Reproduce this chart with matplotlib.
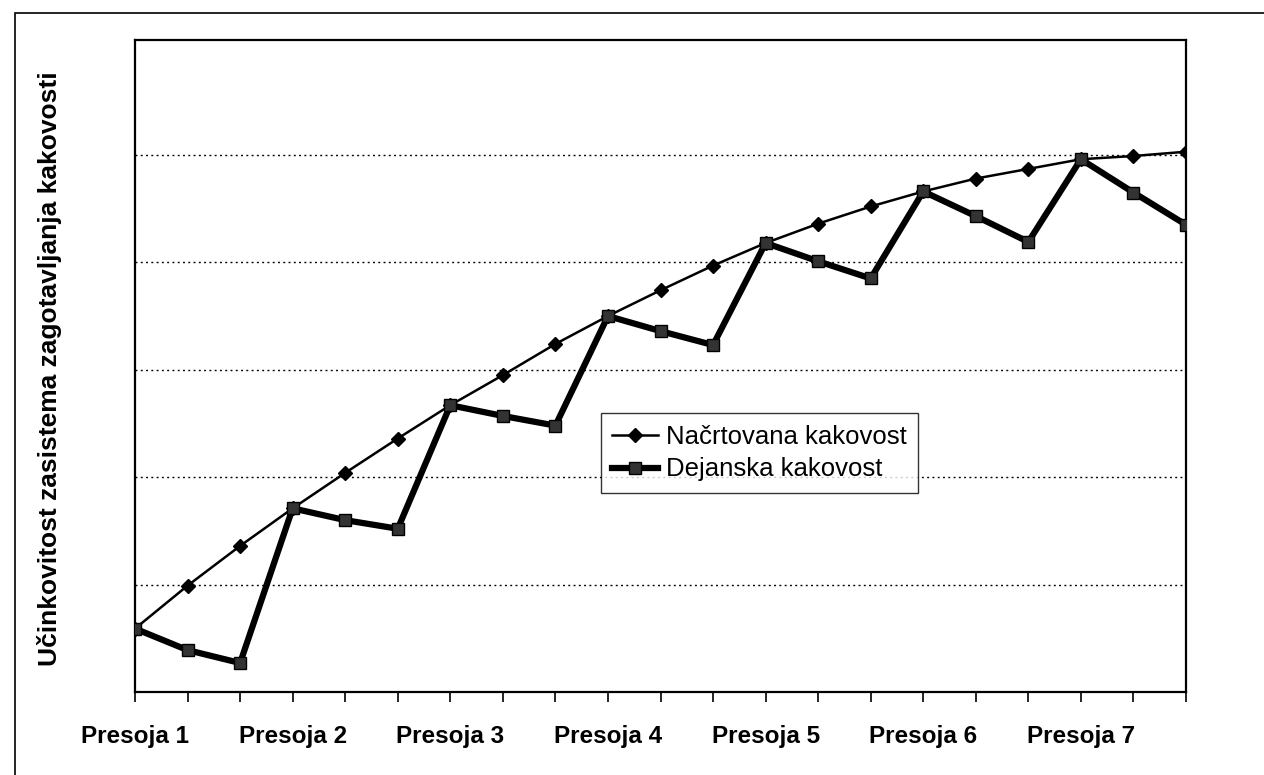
import matplotlib
matplotlib.use("Agg")
import matplotlib.pyplot as plt
from matplotlib.patches import Rectangle


# values (y axis has no labels, gridlines at 1..5)
categories = list(range(21))
tick_labels = ["Presoja 1", "", "", "Presoja 2", "", "", "Presoja 3", "", "",
               "Presoja 4", "", "", "Presoja 5", "", "", "Presoja 6", "", "",
               "Presoja 7", "", ""]
planned = [0.59, 0.99, 1.36, 1.71, 2.04, 2.36, 2.67, 2.95, 3.24, 3.50, 3.74,
           3.97, 4.18, 4.36, 4.52, 4.66, 4.78, 4.87, 4.96, 4.99, 5.03]
actual = [0.59, 0.39, 0.27, 1.71, 1.60, 1.52, 2.67, 2.57, 2.48, 3.50, 3.36,
          3.23, 4.18, 4.01, 3.85, 4.66, 4.43, 4.19, 4.96, 4.65, 4.35]
grid_levels = [1, 2, 3, 4, 5]

series_names = ["Načrtovana kakovost", "Dejanska kakovost"]
ylabel = "Učinkovitost zasistema zagotavljanja kakovosti"

plt.rcParams["font.family"] = ["Liberation Sans", "DejaVu Sans"]

fig = plt.figure(figsize=(12.64, 7.75), dpi=100)
ax = fig.add_axes([135 / 1264, 83 / 775, 1051 / 1264, 652 / 775])

# outer chart frame (right and bottom edges fall outside the picture)
fig.patches.append(Rectangle((15 / 1264, -0.1), 1.2, 0.1 + 762 / 775,
                             transform=fig.transFigure, fill=False,
                             edgecolor="black", linewidth=1.2))

ax.plot(categories, planned, color="black", linewidth=1.8, marker="D",
        markersize=7, label=series_names[0], zorder=3)
ax.plot(categories, actual, color="black", linewidth=4.5, marker="s",
        markersize=9, markerfacecolor="#333333", markeredgecolor="black",
        label=series_names[1], zorder=4)

ax.set_xlim(0, 20)
ax.set_ylim(0, 6.07)

ax.set_yticks(grid_levels)
ax.tick_params(axis="y", left=False, labelleft=False)
ax.yaxis.grid(True, color="black", linewidth=1, linestyle=(0, (1.4, 2.4)))
ax.set_axisbelow(True)

ax.set_xticks(categories)
ax.set_xticklabels(tick_labels, fontsize=17.5, fontweight="bold")
ax.tick_params(axis="x", direction="out", length=7, width=1.2, pad=17)

for spine in ax.spines.values():
    spine.set_linewidth(1.6)
    spine.set_color("black")

fig.text(50 / 1264, 1 - 369 / 775, ylabel, rotation=90, fontsize=19,
         fontweight="bold", ha="center", va="center")

leg = ax.legend(loc="upper left", bbox_to_anchor=(0.443, 0.428),
                borderaxespad=0, fontsize=18.5, frameon=True, fancybox=False,
                edgecolor="black", handlelength=1.8, handletextpad=0.3,
                labelspacing=0.35, borderpad=0.45)
leg.get_frame().set_linewidth(1.0)

fig.savefig("out.png", dpi=100)
